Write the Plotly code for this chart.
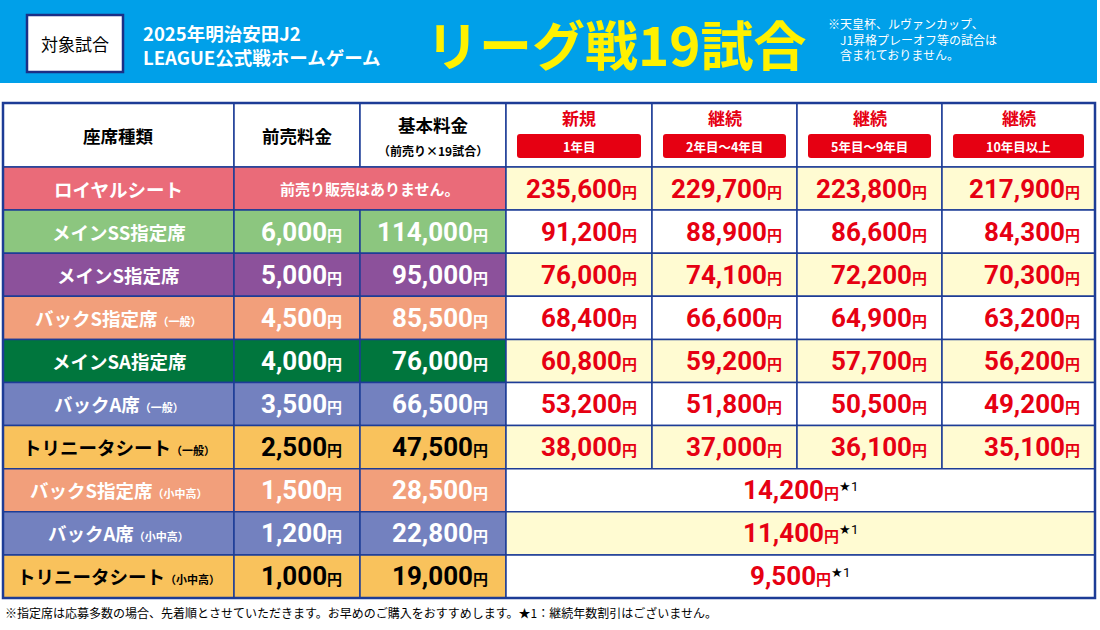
import plotly.graph_objects as go

# ---------------- data ----------------
seat_names = ["ロイヤルシート", "メインSS指定席", "メインS指定席", "バックS指定席", "メインSA指定席",
              "バックA席", "トリニータシート", "バックS指定席", "バックA席", "トリニータシート"]
seat_notes = ["", "", "", "（一般）", "", "（一般）", "（一般）", "（小中高）", "（小中高）", "（小中高）"]
advance_prices = [None, 6000, 5000, 4500, 4000, 3500, 2500, 1500, 1200, 1000]
base_prices = [None, 114000, 95000, 85500, 76000, 66500, 47500, 28500, 22800, 19000]
price_new = [235600, 91200, 76000, 68400, 60800, 53200, 38000, 14200, 11400, 9500]
price_2to4 = [229700, 88900, 74100, 66600, 59200, 51800, 37000, None, None, None]
price_5to9 = [223800, 86600, 72200, 64900, 57700, 50500, 36100, None, None, None]
price_10plus = [217900, 84300, 70300, 63200, 56200, 49200, 35100, None, None, None]
header_labels = ["座席種類", "前売料金", "基本料金"]
base_sub = "（前売り×19試合）"
tier_titles = ["新規", "継続", "継続", "継続"]
tier_labels = ["1年目", "2年目～4年目", "5年目～9年目", "10年目以上"]
no_advance_text = "前売り販売はありません。"
banner_tag = "対象試合"
banner_line1 = "2025年明治安田J2"
banner_line2 = "LEAGUE公式戦ホームゲーム"
banner_title = "リーグ戦19試合"
banner_notes = ["※天皇杯、ルヴァンカップ、", "　J1昇格プレーオフ等の試合は", "　含まれておりません。"]
footer_text = "※指定席は応募多数の場合、先着順とさせていただきます。お早めのご購入をおすすめします。★1：継続年数割引はございません。"

# ---------------- style / layout constants ----------------
W, H = 1100, 630
JP = "Noto Sans CJK JP, sans-serif"
NUM = "Roboto, Liberation Sans Narrow, sans-serif"
BLUE = "#00A0E9"
NAVY = "#1D3C96"
RED = "#E60012"
YELLOW = "#FFF100"
CREAM = "#FFFBD2"
row_fill = ["#EA6B79", "#8CC67F", "#8C519B", "#F29F7B", "#00763D",
            "#7381BF", "#F9C25C", "#F29F7B", "#7381BF", "#F9C25C"]
row_text = ["white"] * 6 + ["black", "white", "white", "black"]
col_edges = [3, 234, 360, 506, 652, 797, 942, 1095]
header_top, header_bot = 103, 167
row_h = 43.1
NUM_SIZE = 26

shapes = []
ann = []


def rect(x0, y0, x1, y1, fill, line=NAVY, lw=1.5):
    shapes.append(dict(type="rect", xref="x", yref="y", x0=x0, y0=y0, x1=x1, y1=y1,
                       fillcolor=fill, line=dict(color=line, width=lw), layer="below"))


def rrect(x0, y0, x1, y1, fill, r=3):
    p = (f"M{x0+r},{y0} L{x1-r},{y0} Q{x1},{y0} {x1},{y0+r} L{x1},{y1-r} Q{x1},{y1} {x1-r},{y1} "
         f"L{x0+r},{y1} Q{x0},{y1} {x0},{y1-r} L{x0},{y0+r} Q{x0},{y0} {x0+r},{y0} Z")
    shapes.append(dict(type="path", xref="x", yref="y", path=p, fillcolor=fill,
                       line=dict(width=0), layer="below"))


def text(x, y, t, size, color, family=JP, xanchor="center", align="center"):
    ann.append(dict(x=x, y=y, xref="x", yref="y", text=t, showarrow=False,
                    xanchor=xanchor, yanchor="middle", align=align,
                    font=dict(family=family, size=size, color=color)))


def yen(v, extra=""):
    return (f"<b>{v:,}</b><span style='font-size:15px;font-family:Noto Sans CJK JP'><b>円</b></span>{extra}")


# ---------------- banner ----------------
rect(0, 0, 1097, 83, BLUE, line=BLUE, lw=0)
rect(27, 15, 123, 72, "white", line="#1B2F86", lw=2.5)
text(75, 43.5, banner_tag, 17, "black")
text(141, 45, f"<b>{banner_line1}</b><br><b>{banner_line2}</b>", 18.5, "white",
     xanchor="left", align="left")
text(616, 43, f"<b>{banner_title}</b>", 53, YELLOW)
text(826, 39, "<br>".join(banner_notes), 12, "white", xanchor="left", align="left")

# ---------------- header row ----------------
for c in range(7):
    rect(col_edges[c], header_top, col_edges[c + 1], header_bot, "white")
for c in range(3):
    cx = (col_edges[c] + col_edges[c + 1]) / 2
    if c < 2:
        text(cx, 135, f"<b>{header_labels[c]}</b>", 17.5, "black")
    else:
        text(cx, 124, f"<b>{header_labels[c]}</b>", 17.5, "black")
        text(cx, 150, f"<b>{base_sub}</b>", 12, "black")
for k in range(4):
    x0, x1 = col_edges[3 + k], col_edges[4 + k]
    cx = (x0 + x1) / 2
    text(cx, 117, f"<b>{tier_titles[k]}</b>", 17, RED)
    rrect(x0 + 11, 134, x1 - 11, 158, RED)
    text(cx, 146.5, f"<b>{tier_labels[k]}</b>", 12.5, "white")

# ---------------- body rows ----------------
tiers = [price_new, price_2to4, price_5to9, price_10plus]
for r in range(len(seat_names)):
    y0 = header_bot + r * row_h
    y1 = y0 + row_h
    cy = (y0 + y1) / 2
    fill, tc = row_fill[r], row_text[r]
    # seat name
    rect(col_edges[0], y0, col_edges[1], y1, fill)
    name = f"<b>{seat_names[r]}</b>"
    if seat_notes[r]:
        name += f"<span style='font-size:11px'><b>{seat_notes[r]}</b></span>"
    text((col_edges[0] + col_edges[1]) / 2, cy, name, 18.5, tc)
    # advance / base
    if advance_prices[r] is None:
        rect(col_edges[1], y0, col_edges[3], y1, fill)
        text((col_edges[1] + col_edges[3]) / 2, cy, f"<b>{no_advance_text}</b>", 15, tc)
    else:
        rect(col_edges[1], y0, col_edges[2], y1, fill)
        rect(col_edges[2], y0, col_edges[3], y1, fill)
        text(col_edges[2] - 16, cy, yen(advance_prices[r]), NUM_SIZE, tc, family=NUM, xanchor="right")
        text(col_edges[3] - 16, cy, yen(base_prices[r]), NUM_SIZE, tc, family=NUM, xanchor="right")
    # membership tiers
    pfill = CREAM if r % 2 == 0 else "white"
    if price_2to4[r] is None:
        rect(col_edges[3], y0, col_edges[7], y1, pfill)
        star = "<span style='color:black;font-size:19px'><sup>★1</sup></span>"
        text((col_edges[3] + col_edges[7]) / 2, cy, yen(price_new[r], star), NUM_SIZE, RED, family=NUM)
    else:
        for k in range(4):
            rect(col_edges[3 + k], y0, col_edges[4 + k], y1, pfill)
            text(col_edges[4 + k] - 13, cy, yen(tiers[k][r]), NUM_SIZE, RED, family=NUM, xanchor="right")

# outer border
shapes.append(dict(type="rect", xref="x", yref="y", x0=col_edges[0], y0=header_top,
                   x1=col_edges[-1], y1=header_bot + len(seat_names) * row_h,
                   line=dict(color=NAVY, width=2.5), fillcolor="rgba(0,0,0,0)", layer="above"))

# footer
text(3, 612, footer_text, 12, "black", xanchor="left")

fig = go.Figure()
fig.update_layout(
    width=W, height=H, margin=dict(l=0, r=0, t=0, b=0),
    paper_bgcolor="white", plot_bgcolor="white",
    xaxis=dict(range=[0, W], visible=False, fixedrange=True),
    yaxis=dict(range=[H, 0], visible=False, fixedrange=True),
    shapes=shapes, annotations=ann, showlegend=False,
)
fig.write_html("out.html", config={"displayModeBar": False},
               post_script="document.body.style.margin='0';")
